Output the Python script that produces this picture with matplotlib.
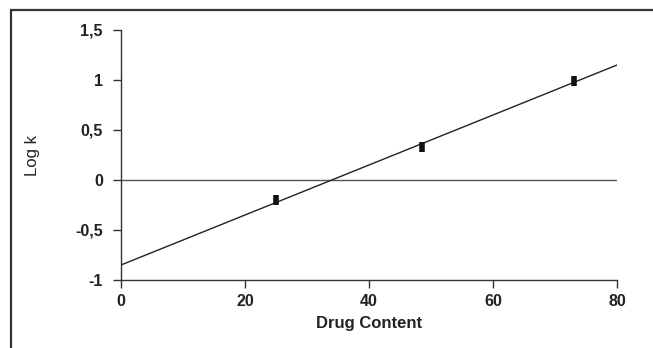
import matplotlib.pyplot as plt
from matplotlib.patches import Rectangle

drug_content = [25, 48.5, 73]
log_k = [-0.2, 0.33, 0.99]
fit_x = [0, 80]
fit_y = [-0.85, 1.15]
yticks = [-1, -0.5, 0, 0.5, 1, 1.5]
ytick_labels = ['-1', '-0,5', '0', '0,5', '1', '1,5']
xticks = [0, 20, 40, 60, 80]

plt.rcParams['font.family'] = ['Liberation Sans', 'DejaVu Sans']

fig = plt.figure(figsize=(6.53, 3.48), dpi=100)
# outer frame, only top and left edges fall inside the image
fig.patches.append(Rectangle((11/653, 0-0.1), 1.2, 1 - 10/348 + 0.1,
                             transform=fig.transFigure, fill=False,
                             edgecolor='#333333', linewidth=1.6))

ax = fig.add_axes([121/653, 1 - 280/348, 496/653, 250/348])
ax.plot(fit_x, [0, 0], color='#555555', linewidth=1.0)
ax.plot(fit_x, fit_y, color='#222222', linewidth=1.0)
ax.plot(drug_content, log_k, linestyle='none', marker='|', markersize=7,
        markeredgewidth=4, color='#111111')

ax.set_xlim(0, 80)
ax.set_ylim(-1, 1.5)
ax.set_xticks(xticks)
ax.set_yticks(yticks)
ax.set_yticklabels(ytick_labels)
for s in ['top', 'right']:
    ax.spines[s].set_visible(False)
for s in ['left', 'bottom']:
    ax.spines[s].set_color('#333333')
    ax.spines[s].set_linewidth(1.0)
ax.tick_params(direction='out', length=6, width=1, color='#333333',
               labelsize=11.5)
ax.tick_params(axis='x', pad=4)
ax.tick_params(axis='y', pad=7)
for lab in ax.get_xticklabels() + ax.get_yticklabels():
    lab.set_fontweight('bold')
    lab.set_color('#222222')

ax.set_xlabel('Drug Content', fontsize=12, fontweight='bold', color='#222222', labelpad=5)
ax.set_ylabel('Log k', fontsize=12, color='#222222', labelpad=25)

fig.savefig('out.png', dpi=100)
